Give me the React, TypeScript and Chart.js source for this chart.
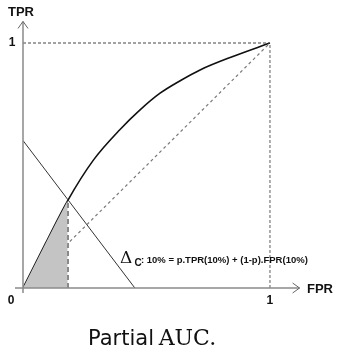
import React, { useEffect, useRef } from "react";
import { Chart, registerables } from "chart.js";
Chart.register(...registerables);

// ROC curve
const rocFPR = [0, 0.09, 0.181, 0.285, 0.393, 0.474, 0.555, 0.64, 0.717, 0.85, 1];
const rocTPR = [0, 0.18, 0.357, 0.522, 0.647, 0.727, 0.795, 0.848, 0.89, 0.945, 1];
// partial AUC bound
const cutFPR = 0.181;
const cutTPR = 0.357;
// iso-cost line Δc
const isoFPR = [0, 0.453];
const isoTPR = [0.602, 0];
// diagonal chance line
const diagFPR = [0, 1];
const diagTPR = [0, 1];
// tick labels
const xTickLabels = ["0", "1"];
const yTickLabels = ["1"];
const xAxisTitle = "FPR";
const yAxisTitle = "TPR";
const isoLabel = ": 10% = p.TPR(10%) + (1-p).FPR(10%)";
const captionA = "Partial ";
const captionB = "AUC.";

const pts = (xs: number[], ys: number[]) => xs.map((x, i) => ({ x, y: ys[i] }));

export default function App() {
  const ref = useRef<HTMLCanvasElement>(null);
  useEffect(() => {
    const shaded = pts(rocFPR, rocTPR).filter((p) => p.x <= cutFPR);
    const deco = {
      id: "deco",
      afterDatasetsDraw(chart: any) {
        const ctx = chart.ctx;
        const xs = chart.scales.x;
        const ys = chart.scales.y;
        const x0 = xs.getPixelForValue(0);
        const y0 = ys.getPixelForValue(0);
        const x1 = xs.getPixelForValue(1);
        const y1 = ys.getPixelForValue(1);
        ctx.save();
        // axes
        ctx.strokeStyle = "#8a8a8a";
        ctx.lineWidth = 1.5;
        ctx.beginPath();
        ctx.moveTo(x0 - 8, y0);
        ctx.lineTo(xs.getPixelForValue(1.12), y0);
        ctx.moveTo(x0, y0 + 5);
        ctx.lineTo(x0, ys.getPixelForValue(1.088));
        ctx.stroke();
        // arrow heads
        ctx.strokeStyle = "#666";
        ctx.lineWidth = 1;
        const ax = xs.getPixelForValue(1.12);
        ctx.beginPath();
        ctx.moveTo(ax - 7, y0 - 5);
        ctx.lineTo(ax, y0);
        ctx.lineTo(ax - 7, y0 + 5);
        const ay = ys.getPixelForValue(1.088);
        ctx.moveTo(x0 - 5, ay + 7);
        ctx.lineTo(x0, ay);
        ctx.lineTo(x0 + 5, ay + 7);
        ctx.stroke();
        // texts
        ctx.fillStyle = "#111";
        ctx.font = "bold 13px 'Liberation Sans', Arial, sans-serif";
        ctx.textBaseline = "middle";
        ctx.textAlign = "left";
        ctx.fillText(yAxisTitle, 8, 12);
        ctx.fillText(xAxisTitle, 307, y0 + 1);
        ctx.font = "bold 12px 'Liberation Sans', Arial, sans-serif";
        ctx.textAlign = "center";
        ctx.fillText(xTickLabels[0], x0 - 12, y0 + 13);
        ctx.fillText(xTickLabels[1], x1, y0 + 13);
        ctx.fillText(yTickLabels[0], x0 - 11, y1);
        // iso label
        ctx.textAlign = "left";
        ctx.font = "17px 'DejaVu Serif', serif";
        ctx.fillText("\u0394", 120, 259);
        ctx.font = "bold 10px 'Liberation Sans', Arial, sans-serif";
        ctx.fillText("C", 134.5, 263.5);
        ctx.font = "bold 9.5px 'Liberation Sans', Arial, sans-serif";
        ctx.fillText(isoLabel, 141, 260.5);
        // caption
        ctx.textBaseline = "alphabetic";
        ctx.font = "21px 'DejaVu Sans', sans-serif";
        ctx.fillText(captionA, 88, 345);
        const w = ctx.measureText(captionA).width;
        ctx.font = "22px 'DejaVu Serif', serif";
        ctx.fillText(captionB, 88 + w - 2, 345);
        ctx.restore();
      },
    };
    const chart = new Chart(ref.current!, {
      type: "scatter",
      data: {
        datasets: [
          {
            data: shaded,
            showLine: true,
            borderWidth: 0,
            borderColor: "rgba(0,0,0,0)",
            backgroundColor: "#c4c4c4",
            fill: "origin",
            pointRadius: 0,
            cubicInterpolationMode: "monotone",
          },
          {
            data: pts(diagFPR, diagTPR),
            showLine: true,
            borderColor: "#7a7a7a",
            borderWidth: 1.2,
            borderDash: [3, 3],
            pointRadius: 0,
          },
          {
            data: [{ x: 0, y: 1 }, { x: 1, y: 1 }],
            showLine: true,
            borderColor: "#444",
            borderWidth: 1,
            borderDash: [3, 2],
            pointRadius: 0,
          },
          {
            data: [{ x: 1, y: 0 }, { x: 1, y: 1 }],
            showLine: true,
            borderColor: "#9a9a9a",
            borderWidth: 1.6,
            borderDash: [3, 2],
            pointRadius: 0,
          },
          {
            data: [{ x: cutFPR, y: 0 }, { x: cutFPR, y: cutTPR }],
            showLine: true,
            borderColor: "#555",
            borderWidth: 2,
            borderDash: [5, 3],
            pointRadius: 0,
          },
          {
            data: pts(isoFPR, isoTPR),
            showLine: true,
            borderColor: "#333",
            borderWidth: 1,
            pointRadius: 0,
          },
          {
            data: pts(rocFPR, rocTPR),
            showLine: true,
            borderColor: "#111",
            borderWidth: 1.6,
            pointRadius: 0,
            cubicInterpolationMode: "monotone",
          },
        ],
      },
      options: {
        responsive: false,
        animation: false,
        events: [],
        layout: { padding: { left: 23, right: 33, top: 18.5, bottom: 62 } },
        plugins: { legend: { display: false }, tooltip: { enabled: false } },
        scales: {
          x: { type: "linear", min: 0, max: 1.15, display: false },
          y: { type: "linear", min: 0, max: 1.1, display: false },
        },
        elements: { line: { borderCapStyle: "butt" } },
      },
      plugins: [deco],
    });
    return () => chart.destroy();
  }, []);
  return (
    <div style={{ position: "absolute", left: 0, top: 0, width: 340, height: 350, background: "#fff" }}>
      <canvas ref={ref} width={340} height={350} />
    </div>
  );
}
